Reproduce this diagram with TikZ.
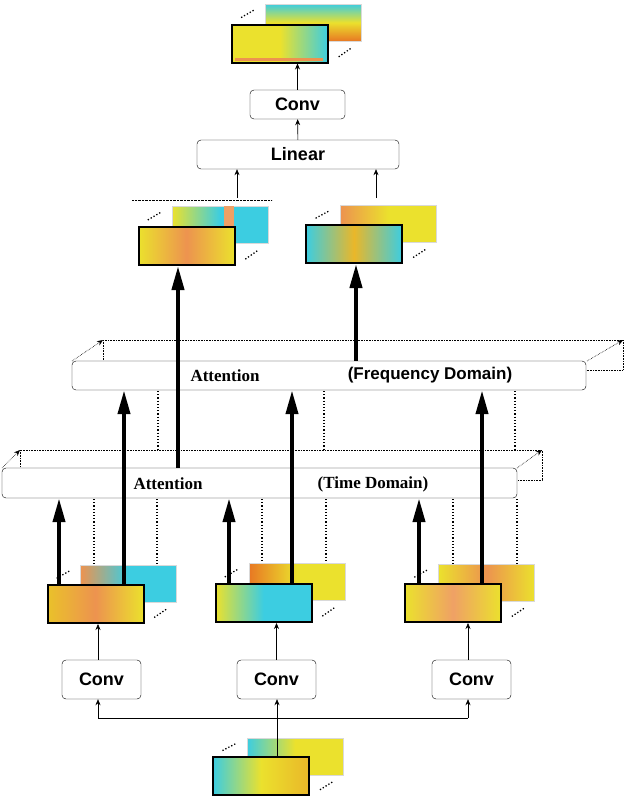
\documentclass[tikz,border=0pt]{standalone}
\usepackage{fontspec}
\setmainfont{Liberation Serif}
\setsansfont{Liberation Sans}
\usetikzlibrary{arrows.meta,calc}
\definecolor{SY}{RGB}{235,225,45}
\definecolor{SO}{RGB}{232,120,35}
\definecolor{SC}{RGB}{60,205,225}
\tikzset{
 box/.style={draw, rounded corners=4pt, fill=white, font=\sffamily\bfseries\fontsize{18}{21}\selectfont, inner sep=0pt},
 att/.style={draw, rounded corners=4pt, fill=white, inner sep=0pt},
 ghost/.style={draw, densely dotted, thin},
 bk/.style={draw=black!15, minimum width=96pt, minimum height=37pt, inner sep=0pt},
 fr/.style={draw=black, line width=2pt, minimum width=96pt, minimum height=38pt, inner sep=0pt},
 thin/.style={-{Stealth[length=6pt,width=5pt]}, semithick},
 thick/.style={line width=4pt, -{Triangle[length=24pt,width=12pt]}},
 vdots/.style={dotted, line width=1.2pt},
 atext/.style={font=\bfseries\fontsize{17}{20}\selectfont}
}
\newcommand\specdots[2]{%
 \draw[dotted, line width=1.3pt] ($(#1.north west)!0.3!(#2.north west)$) -- ($(#1.north west)!0.7!(#2.north west)$);
 \draw[dotted, line width=1.3pt] ($(#1.south east)!0.3!(#2.south east)$) -- ($(#1.south east)!0.7!(#2.south east)$);}
\begin{document}
\begin{tikzpicture}[x=1pt,y=-1pt]
\useasboundingbox (0,0) rectangle (624,801);
% ---------- attention boxes (ghost first)
\draw[ghost] (103,340) rectangle (623,370);
\draw[ghost] (72,361) -- (103,340);
\draw[ghost] (587,361) -- (623,340);
\node[att, minimum width=514pt, minimum height=29pt] (fq) at (329,375.5) {};
\node[atext] (fqa) at (225,376) {Attention};
\node[atext, font=\sffamily\bfseries\fontsize{17}{20}\selectfont] (fqb) at (430,375) {(Frequency Domain)};
\draw[ghost] (20,450) rectangle (542,480);
\draw[ghost] (2,468) -- (20,450);
\draw[ghost] (517,468) -- (542,450);
\node[att, minimum width=515pt, minimum height=30pt] (tm) at (259.5,483) {};
\node[atext] (tma) at (168,484) {Attention};
\node[atext] (tmb) at (373,484) {(Time Domain)};
% dotted verticals
\foreach \x in {158,324,515}{\draw[vdots] (\x,391) -- (\x,450);}
\foreach \x in {94,157,262,326,453,517}{\draw[vdots] (\x,499) -- (\x,566);}
% ---------- top
\node[bk, top color=SC, bottom color=SO, middle color=SY] (tb) at (313,22.5) {};
\node[fr, left color=SY, right color=SC, middle color=SY] (tf) at (280,43.5) {};
\fill[SO!80] (tf.south west) ++(4,-6) rectangle ++(88,3);
\specdots{tf}{tb}
\node[box, minimum width=95pt, minimum height=29pt] (c0) at (297.5,104.5) {Conv};
\node[box, minimum width=202pt, minimum height=29pt] (ln) at (298,154.5) {Linear};
\draw[thin] (c0) -- (tf.south -| c0);
\draw[thin] (ln) -- (c0);
% ---------- middle spectrograms
\node[bk, left color=SY, right color=SC, middle color=SC] (mlb) at (220,224.5) {};
\fill[SO!70] ([xshift=52pt]mlb.north west) rectangle ([xshift=62pt]mlb.south west);
\node[fr, left color=SY, right color=SY, middle color=SO!80] (mlf) at (186.5,246) {};
\specdots{mlf}{mlb}
\node[bk, left color=SO!80, right color=SY, middle color=SY] (mrb) at (388.5,223.5) {};
\node[fr, left color=SC, right color=SC, middle color=SY!60!SO] (mrf) at (354,244) {};
\specdots{mrf}{mrb}
\draw[densely dotted] (132,200) -- (272,200);
\coordinate (lk1) at (237,198);
\coordinate (lk2) at (376,198);
\draw[thin] (lk1) -- (lk1 |- ln.south);
\draw[thin] (lk2) -- (lk2 |- ln.south);
\draw[thick] (tm.north -| 178,0) -- (mlf.south -| 178,0);
\draw[thick] (fq.north -| 356,0) -- (mrf.south -| 356,0);
% ---------- bottom spectrograms
\node[bk, left color=SO!80, right color=SC, middle color=SC] (b1b) at (128.5,583.5) {};
\node[fr, left color=SY!70!SO, right color=SY, middle color=SO!80] (b1f) at (95.5,604) {};
\node[bk, left color=SO, right color=SY, middle color=SY] (b2b) at (297,581.5) {};
\node[fr, left color=SY, right color=SC, middle color=SC] (b2f) at (263.5,603) {};
\node[bk, left color=SY, right color=SY, middle color=SO!80] (b3b) at (486.5,582.5) {};
\node[fr, left color=SY, right color=SY, middle color=SO!70] (b3f) at (453,603) {};
\specdots{b1f}{b1b}
\specdots{b2f}{b2b}
\specdots{b3f}{b3b}
\foreach \n/\a/\b in {b1/59/124,b2/229/292,b3/419/482}{
 \draw[thick] (\n f.north -| \a,0) -- (tm.south -| \a,0);
 \draw[thick] (\n f.north -| \b,0) -- (fq.south -| \b,0);}
% ---------- convs
\node[box, minimum width=79pt, minimum height=39pt] (c1) at (101.5,679.5) {Conv};
\node[box, minimum width=79pt, minimum height=39pt] (c2) at (276.5,679.5) {Conv};
\node[box, minimum width=79pt, minimum height=39pt] (c3) at (471.5,679.5) {Conv};
\draw[thin] (c1.north -| 98,0) -- (b1f.south -| 98,0);
\draw[thin] (c2) -- (b2f.south -| c2);
\draw[thin] (c3.north -| 468,0) -- (b3f.south -| 468,0);
% ---------- input
\node[bk, left color=SC, right color=SY, middle color=SY] (ib) at (295,756.5) {};
\node[fr, left color=SC, right color=SY!60!SO, middle color=SY] (if) at (261,776) {};
\specdots{if}{ib}
\coordinate (jn) at (277,718);
\draw[semithick] (if.north -| jn) -- (jn);
\draw[semithick] (98,718) -- (468,718);
\draw[thin] (98,718) -- (c1.south -| 98,0);
\draw[thin] (jn) -- (c2.south -| jn);
\draw[thin] (468,718) -- (c3.south -| 468,0);
\end{tikzpicture}
\end{document}
